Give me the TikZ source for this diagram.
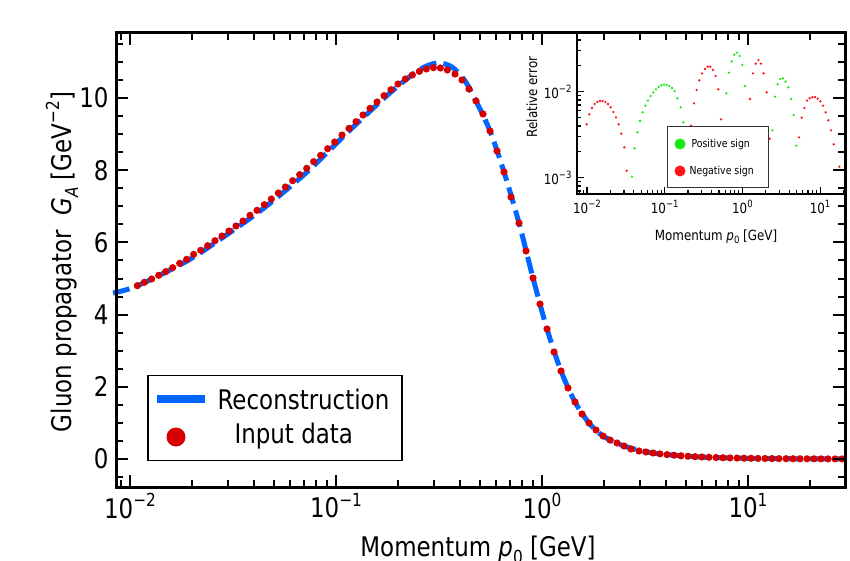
\documentclass[tikz,border=0pt]{standalone}
\usepackage{fontspec}
\setmainfont[FakeStretch=0.85]{DejaVu Sans}
\newcommand{\fs}[1]{\fontsize{#1}{#1}\selectfont}
\newcommand{\tenpow}[2]{10\raisebox{0.42em}{\fs{#2}−#1}}
\definecolor{mainred}{RGB}{215,0,0}
\definecolor{mainblue}{RGB}{0,102,255}
\definecolor{insred}{RGB}{255,20,20}
\definecolor{insgreen}{RGB}{20,235,20}
\begin{document}
\begin{tikzpicture}[x=1pt,y=-1pt,
  frame/.style={line width=3pt},
  iframe/.style={line width=1.6pt},
  tk/.style={line width=2pt},
  itk/.style={line width=1.2pt},
  mdot/.style={fill=mainred},
]
\useasboundingbox (0,0) rectangle (850,561);
% ---------- main curve ----------
\draw[mainblue,line width=5pt,dash pattern=on 17pt off 7pt] plot[smooth,tension=0.5] coordinates{
(113,293)(137,286)(187,261)(222,238)(264,208)(307,172)(349,131)(391,92)(419,70)(437,63)(452,67)(465,81)(476,101)(490,131)(504,172)(519,223)(533,278)(547,329)(561,371)(575,402)(589,423)(603,436)(624,446)(653,453)(700,457)(760,458.5)(845,459)};
% dots left part (zoom coords)
\foreach \a/\b in {52/707,73/697,95/687,116/676,137/665,158/653,179/640,200/628,221/613,242/601,263/587,285/572,306/558,327/543,348/528,369/513,390/496,411/481,433/464,454/447,475/429,496/411,518/392,539/374,560/355,581/335,602/316,623/296,644/276,666/255,687/235,708/215,729/195,750/175,771/156,792/137,813/119,834/102,856/87,877/75,898/64,919/57,940/53,961/54,982/60}
  \fill[mainred] ({120+\a/3},{50+\b/3}) circle[radius=3.6];
\foreach \a/\b in {455/74,462/80,469/89,476/101,483/114,490/131,497/151,504/172,511/197,519/223,526/251,533/278,540/304,547/329,554/352,561/371,568/388,575/402,582/414,589/423,596/430,603/436,610/440,617/443,624/446,631/449,639/451,646/452,653/453}
  \fill[mainred] (\a,\b) circle[radius=3.6];
\foreach \i in {1,...,27}
  \fill[mainred] ({653+7*\i},{459-6*exp(-7*\i/45)}) circle[radius=3.6];
% ---------- main axes ----------
\draw[frame] (116,33) rectangle (845,487);
\foreach \v in {0,2,...,10} {
  \draw[tk] (116,{459-36.1*\v}) -- ++(12,0);
  \draw[tk] (845,{459-36.1*\v}) -- ++(-12,0);
  \node[anchor=east,font=\fs{27}] at (112,{459-36.1*\v}) {\v};
}
\foreach \v in {-0.5,0.5,1,...,11.5} {
  \draw[tk] (116,{459-36.1*\v}) -- ++(7,0);
  \draw[tk] (845,{459-36.1*\v}) -- ++(-7,0);
}
\foreach \e/\lab in {-2/2,-1/1} {
  \draw[tk] ({130+206*(\e+2)},487) -- ++(0,-12);
  \draw[tk] ({130+206*(\e+2)},33) -- ++(0,12);
  \node[anchor=north,font=\fs{27}] at ({130+206*(\e+2)},490) {\tenpow{\lab}{18}};
}
\draw[tk] (542,487) -- ++(0,-12); \draw[tk] (542,33) -- ++(0,12);
\node[anchor=north,font=\fs{27}] at (542,490) {10\raisebox{0.42em}{\fs{18}0}};
\draw[tk] (748,487) -- ++(0,-12); \draw[tk] (748,33) -- ++(0,12);
\node[anchor=north,font=\fs{27}] at (748,490) {10\raisebox{0.42em}{\fs{18}1}};
\foreach \e in {-3,-2,-1,0,1} \foreach \k in {2,...,9} {
  \pgfmathsetmacro{\xx}{130+206*(\e+2+log10(\k))}
  \ifdim\xx pt>117pt \ifdim\xx pt<844pt
    \draw[tk] (\xx,487) -- ++(0,-7);
    \draw[tk] (\xx,33) -- ++(0,7);
  \fi\fi
}
\node[rotate=90,font=\fs{27}] (ylab) at (62,262) {Gluon propagator\ \ \textit{G}\raisebox{-0.25em}{\fs{18}\textit{A}} [GeV\raisebox{0.45em}{\fs{18}−2}]};
\node[font=\fs{27}] (xlab) at (478,550) {Momentum \textit{p}\raisebox{-0.25em}{\fs{18}0} [GeV]};
% ---------- main legend ----------
\node[draw=black,line width=1.5pt,fill=white,minimum width=254,minimum height=85] (leg) at (275,418) {};
\draw[mainblue,line width=8pt] (157,399) -- (205,399);
\node[anchor=west,font=\fs{27}] (l1) at (214,399) {Reconstruction};
\fill[mainred] (176,437) circle[radius=9.5];
\node[anchor=west,font=\fs{27}] (l2) at (231,436) {Input data};
% ---------- inset ----------
\draw[iframe] (577,33) rectangle (845,194);
\foreach \e/\lab in {-2/−2,-1/−1,0/0,1/1} {
  \draw[itk] ({587+77.7*(\e+2)},194) -- ++(0,-7);
  \node[anchor=north,font=\fs{14}] at ({587+77.7*(\e+2)},197) {10\raisebox{0.42em}{\fs{10}\lab}};
}
\foreach \e in {-3,-2,-1,0,1} \foreach \k in {2,...,9} {
  \pgfmathsetmacro{\xx}{587+77.7*(\e+2+log10(\k))}
  \ifdim\xx pt>578pt \ifdim\xx pt<844pt
    \draw[itk] (\xx,194) -- ++(0,-4);
  \fi\fi
}
\foreach \e/\lab in {-2/−2,-3/−3} {
  \draw[itk] (577,{91.7-86*(\e+2)}) -- ++(7,0);
  \node[anchor=east,font=\fs{14}] at (575,{91.7-86*(\e+2)}) {10\raisebox{0.42em}{\fs{10}\lab}};
}
\foreach \e in {-4,-3,-2} \foreach \k in {2,...,9} {
  \pgfmathsetmacro{\yy}{91.7-86*(\e+2+log10(\k))}
  \ifdim\yy pt>34pt \ifdim\yy pt<193pt
    \draw[itk] (577,\yy) -- ++(4,0);
  \fi\fi
}
\node[rotate=90,font=\fs{14}] (iylab) at (532,97) {Relative error};
\node[font=\fs{14}] (ixlab) at (716,237) {Momentum \textit{p}\raisebox{-0.25em}{\fs{10}0} [GeV]};
% inset dots (zoom coords)
\foreach \a/\b in {200/313,208/283,216/264,224/252,232/246,240/243,248/243,256/246,264/252,272/262,280/276,288/292,296/313,304/341,313/382,320/452,
  513/317,522/250,530/210,538/181,546/160,555/147,563/140,571/140,579/150,587/168,595/208,603/298,
  690/237,699/160,707/131,715/120,723/131,731/160,740/217,749/356,
  837/352,845/293,853/264,861/242,869/235,877/232,885/231,893/236,901/244,909/257,917/277,925/301,933/331,941/373,958/440}
  \fill[insred] ({520+\a/3},{20+\b/3}) circle[radius=1.3];
\foreach \a/\b in {336/470,344/385,352/337,360/303,368/277,376/257,384/242,392/228,400/217,408/208,416/201,424/196,432/194,440/195,448/198,456/204,464/213,472/235,482/262,490/307,
  619/220,627/158,635/124,643/104,651/98,659/108,667/135,675/198,
  757/331,765/230,773/193,781/177,789/175,797/185,805/202,813/237,821/285,829/377}
  \fill[insgreen] ({520+\a/3},{20+\b/3}) circle[radius=1.3];
% inset legend
\node[draw=black!80,line width=1pt,fill=white,minimum width=101,minimum height=61] (ileg) at (717.5,157.5) {};
\fill[insgreen] (680,144) circle[radius=5.5];
\node[anchor=west,font=\fs{11}] (il1) at (688,144) {Positive sign};
\fill[insred] (680,171) circle[radius=5.5];
\node[anchor=west,font=\fs{11}] (il2) at (686,171) {Negative sign};
\end{tikzpicture}
\end{document}
